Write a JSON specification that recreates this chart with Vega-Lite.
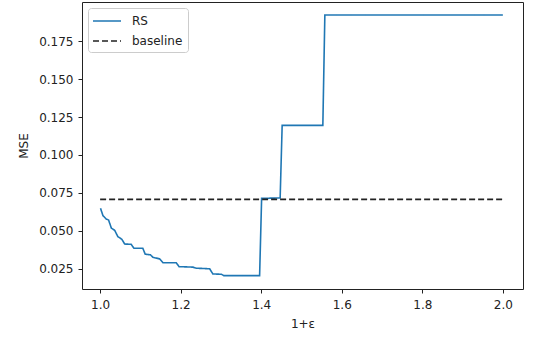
{
  "$schema": "https://vega.github.io/schema/vega-lite/v6.json",
  "width": 441,
  "height": 287,
  "autosize": {"type": "none"},
  "padding": {"left": 82, "top": 2, "right": 24, "bottom": 54},
  "background": "white",
  "config": {
    "font": "DejaVu Sans",
    "view": {"stroke": "#222", "strokeWidth": 1},
    "axis": {
      "grid": false,
      "domain": false,
      "tickColor": "#222",
      "tickSize": 4,
      "labelPadding": 5,
      "labelColor": "#222",
      "labelFontSize": 12,
      "labelFont": "DejaVu Sans",
      "titleFont": "DejaVu Sans",
      "titleFontSize": 12,
      "titleFontWeight": "normal",
      "titleColor": "#222"
    }
  },
  "data": {
    "values": [
      {"series": "RS", "x": 1.001, "y": 0.0649},
      {"series": "RS", "x": 1.007, "y": 0.0601},
      {"series": "RS", "x": 1.015, "y": 0.0579},
      {"series": "RS", "x": 1.021, "y": 0.0572},
      {"series": "RS", "x": 1.028, "y": 0.0518},
      {"series": "RS", "x": 1.036, "y": 0.0505},
      {"series": "RS", "x": 1.044, "y": 0.0463},
      {"series": "RS", "x": 1.054, "y": 0.0445},
      {"series": "RS", "x": 1.061, "y": 0.0414},
      {"series": "RS", "x": 1.077, "y": 0.0412},
      {"series": "RS", "x": 1.084, "y": 0.0386},
      {"series": "RS", "x": 1.106, "y": 0.0386},
      {"series": "RS", "x": 1.112, "y": 0.0347},
      {"series": "RS", "x": 1.125, "y": 0.0343},
      {"series": "RS", "x": 1.131, "y": 0.0327},
      {"series": "RS", "x": 1.148, "y": 0.0316},
      {"series": "RS", "x": 1.156, "y": 0.0291},
      {"series": "RS", "x": 1.189, "y": 0.0291},
      {"series": "RS", "x": 1.196, "y": 0.0265},
      {"series": "RS", "x": 1.230, "y": 0.0262},
      {"series": "RS", "x": 1.239, "y": 0.0255},
      {"series": "RS", "x": 1.272, "y": 0.0251},
      {"series": "RS", "x": 1.280, "y": 0.0217},
      {"series": "RS", "x": 1.301, "y": 0.0215},
      {"series": "RS", "x": 1.307, "y": 0.0206},
      {"series": "RS", "x": 1.396, "y": 0.0206},
      {"series": "RS", "x": 1.401, "y": 0.0715},
      {"series": "RS", "x": 1.447, "y": 0.0717},
      {"series": "RS", "x": 1.452, "y": 0.1195},
      {"series": "RS", "x": 1.553, "y": 0.1195},
      {"series": "RS", "x": 1.558, "y": 0.1921},
      {"series": "RS", "x": 2.0, "y": 0.1921},
      {"series": "baseline", "x": 1.0, "y": 0.0708},
      {"series": "baseline", "x": 2.0, "y": 0.0708}
    ]
  },
  "mark": {"type": "line", "strokeWidth": 1.6, "clip": true},
  "encoding": {
    "x": {
      "field": "x",
      "type": "quantitative",
      "title": "1+ε",
      "scale": {"domain": [0.955, 2.05], "nice": false, "zero": false},
      "axis": {"values": [1.0, 1.2, 1.4, 1.6, 1.8, 2.0], "format": ".1f", "labelPadding": 6, "titlePadding": 8}
    },
    "y": {
      "field": "y",
      "type": "quantitative",
      "title": "MSE",
      "scale": {"domain": [0.0118, 0.2007], "nice": false, "zero": false},
      "axis": {"values": [0.025, 0.05, 0.075, 0.1, 0.125, 0.15, 0.175], "format": ".3f", "titlePadding": 8}
    },
    "color": {
      "field": "series",
      "type": "nominal",
      "scale": {"domain": ["RS", "baseline"], "range": ["#1f77b4", "#222222"]},
      "legend": {
        "title": null,
        "orient": "top-left",
        "offset": 6,
        "symbolType": "M-2,0H2",
        "symbolSize": 196,
        "symbolOffset": 6,
        "symbolStrokeWidth": 1.6,
        "labelFontSize": 12,
        "labelOffset": 17,
        "labelColor": "#222",
        "labelFont": "DejaVu Sans",
        "fillColor": "white",
        "strokeColor": "#cccccc",
        "cornerRadius": 3,
        "padding": 5,
        "rowPadding": 6
      }
    },
    "strokeDash": {
      "field": "series",
      "type": "nominal",
      "scale": {"domain": ["RS", "baseline"], "range": [[1, 0], [6, 3]]},
      "legend": null
    }
  }
}
